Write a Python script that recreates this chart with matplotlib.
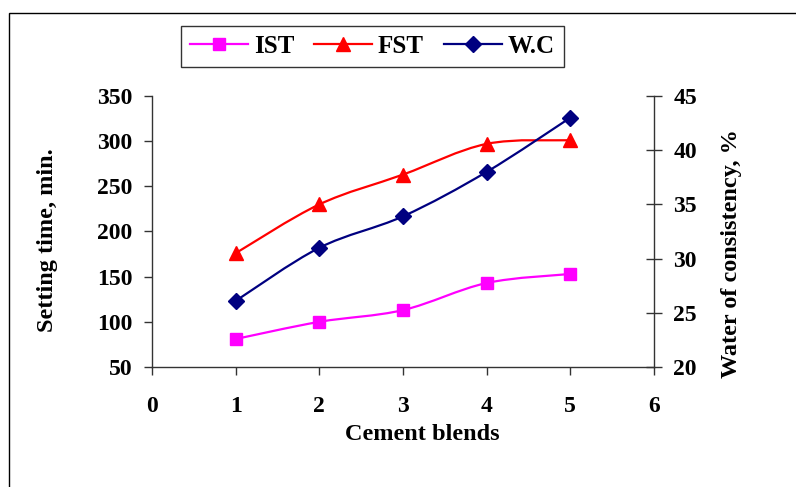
import matplotlib
matplotlib.use("Agg")
import matplotlib.pyplot as plt
from matplotlib.path import Path
from matplotlib.patches import PathPatch, Rectangle
from matplotlib.lines import Line2D

blends = [1, 2, 3, 4, 5]
ist = [81, 100, 113, 143, 153]          # initial setting time, min
fst = [176, 230, 263, 297, 301]         # final setting time, min
wc = [26.1, 31.0, 33.9, 38.0, 43.0]     # water of consistency, %

plt.rcParams['font.family'] = ['Liberation Serif', 'DejaVu Serif']
plt.rcParams['font.weight'] = 'bold'
FS = 17


def smooth_patch(xs, ys, color):
    # Excel-like smoothed line: cubic Bezier through the data points
    verts = [(xs[0], ys[0])]
    codes = [Path.MOVETO]
    n = len(xs)
    for i in range(n - 1):
        x0, y0 = (xs[i - 1], ys[i - 1]) if i > 0 else (xs[i], ys[i])
        x3, y3 = (xs[i + 2], ys[i + 2]) if i + 2 < n else (xs[i + 1], ys[i + 1])
        c1 = (xs[i] + (xs[i + 1] - x0) / 6, ys[i] + (ys[i + 1] - y0) / 6)
        c2 = (xs[i + 1] - (x3 - xs[i]) / 6, ys[i + 1] - (y3 - ys[i]) / 6)
        verts += [c1, c2, (xs[i + 1], ys[i + 1])]
        codes += [Path.CURVE4] * 3
    return PathPatch(Path(verts, codes), facecolor='none', edgecolor=color, lw=1.6)


fig = plt.figure(figsize=(7.96, 4.87), dpi=100)
ax = fig.add_axes([0.191, 0.2464, 0.6306, 0.5565])
ax2 = ax.twinx()

ax.add_patch(smooth_patch(blends, ist, '#FF00FF'))
ax.plot(blends, ist, 's', color='#FF00FF', ms=9, ls='none')
ax.add_patch(smooth_patch(blends, fst, '#FF0000'))
ax.plot(blends, fst, '^', color='#FF0000', ms=10, ls='none')
ax2.add_patch(smooth_patch(blends, wc, '#000080'))
ax2.plot(blends, wc, 'D', color='#000080', ms=8, ls='none')

ax.set_xlim(0, 6)
ax.set_ylim(50, 350)
ax2.set_ylim(20, 45)
ax.set_xticks(range(0, 7))
ax.set_yticks(range(50, 351, 50))
ax2.set_yticks(range(20, 46, 5))

for a in (ax, ax2):
    a.spines['top'].set_visible(False)
    for s in a.spines.values():
        s.set_color('#333333')
        s.set_linewidth(1.0)
ax.spines['right'].set_visible(False)
ax2.spines['left'].set_visible(False)
ax2.spines['bottom'].set_visible(False)

ax.tick_params(axis='y', direction='out', length=6, width=1, pad=8, labelsize=FS, color='#333333')
ax.tick_params(axis='x', direction='out', length=6, width=1, pad=15, labelsize=FS, color='#333333')
ax2.tick_params(axis='y', direction='inout', length=12, width=1, pad=8, labelsize=FS, color='#333333')
for lab in ax.get_xticklabels() + ax.get_yticklabels() + ax2.get_yticklabels():
    lab.set_fontweight('bold')

ax.set_xlabel('Cement blends', fontsize=17.5, fontweight='bold', labelpad=5)
ax.set_ylabel('Setting time, min.', fontsize=17.5, fontweight='bold', labelpad=28)
ax2.set_ylabel('Water of consistency, %', fontsize=17.5, fontweight='bold', labelpad=17)
ax.xaxis.label.set_x(0.538)
ax.yaxis.label.set_y(0.47)
ax2.yaxis.label.set_y(0.42)

handles = [
    Line2D([], [], color='#FF00FF', marker='s', ms=9, lw=1.6),
    Line2D([], [], color='#FF0000', marker='^', ms=10, lw=1.6),
    Line2D([], [], color='#000080', marker='D', ms=8, lw=1.6),
]
leg = fig.legend(handles, ['IST', 'FST', 'W.C'], loc='center', bbox_to_anchor=(0.468, 0.905),
                 ncol=3, frameon=True, fancybox=False, handlelength=2.3,
                 columnspacing=0.8, handletextpad=0.25, borderpad=0.35, borderaxespad=0,
                 prop={'weight': 'bold', 'size': 18})
leg.get_frame().set_edgecolor('black')
leg.get_frame().set_linewidth(1.0)

# outer frame of the figure (right and bottom edges fall outside the image)
fig.patches.append(Rectangle((9 / 796, -0.1), 1.2, (487 - 13) / 487 + 0.1, transform=fig.transFigure,
                             fill=False, edgecolor='black', lw=1.0))

fig.savefig('out.png', dpi=100)
